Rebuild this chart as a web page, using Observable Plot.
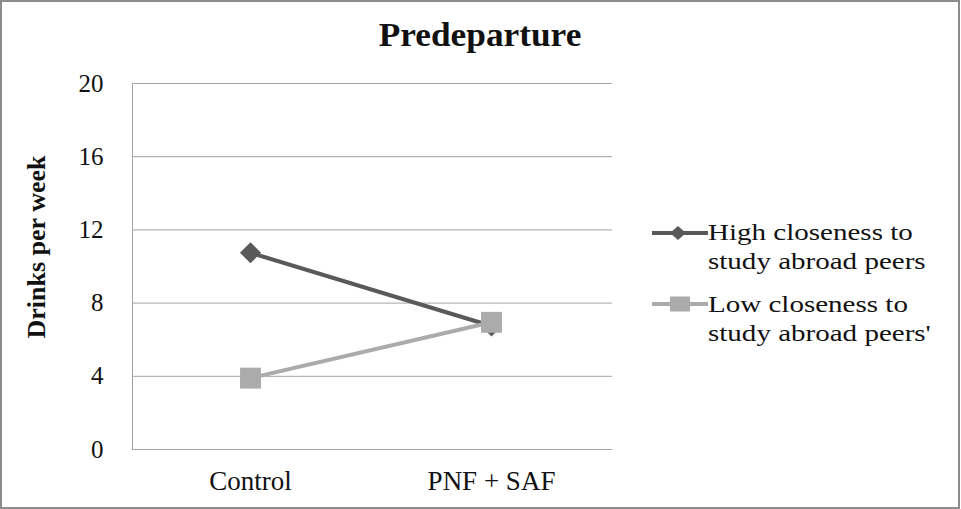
<!DOCTYPE html>
<html>
<head>
<meta charset="utf-8">
<script src="https://cdn.jsdelivr.net/npm/d3@7"></script>
<script src="https://cdn.jsdelivr.net/npm/@observablehq/plot@0.6"></script>
<style>
  html, body { margin: 0; padding: 0; background: #fff; }
  #wrap { position: relative; width: 961px; height: 509px; overflow: hidden; background: #fff;
          font-family: "Liberation Serif", "Times New Roman", serif; color: #111; }
  #border { position: absolute; left: 0; top: 0; width: 960px; height: 509px; box-sizing: border-box;
            border: 2px solid #8c8c8c; pointer-events: none; }
  #title { position: absolute; left: 480px; top: 19px; font-size: 33px; font-weight: bold; line-height: 1;
           white-space: nowrap; transform: translateX(-50%) scaleX(1.07); }
  #ylabel { position: absolute; left: 37px; top: 247px; font-size: 26px; font-weight: bold; line-height: 1;
            white-space: nowrap; transform: translate(-50%, -50%) rotate(-90deg); }
  .leg-text { position: absolute; left: 708px; font-size: 22.5px; line-height: 29px; white-space: nowrap;
              transform: scaleX(1.29); transform-origin: left top; color: #111; }
  .leg-swatch { position: absolute; left: 652px; }
  #chart svg { position: absolute; left: 0; top: 0; }
  #chart svg text { font-family: "Liberation Serif", "Times New Roman", serif !important; }
</style>
</head>
<body>
<div id="wrap">
  <div id="chart"></div>
  <div id="title"></div>
  <div id="ylabel"></div>
  <div id="legend"></div>
  <div id="border"></div>
</div>
<script>
// ---- data ----
const chartTitle = "Predeparture";
const yAxisLabel = "Drinks per week";
const categories = ["Control", "PNF + SAF"];
const seriesNames = ["High closeness to study abroad peers", "Low closeness to study abroad peers'"];
const legendLines = [["High closeness to", "study abroad peers"], ["Low closeness to", "study abroad peers'"]];
const highCloseness = [10.75, 6.75];
const lowCloseness = [3.9, 6.95];
const yTicks = [0, 4, 8, 12, 16, 20];
const seriesColors = ["#595959", "#ababab"];
const seriesSymbols = ["diamond2", "square"];

// build table
const seriesValues = [highCloseness, lowCloseness];
const rows = [];
seriesNames.forEach((s, si) => categories.forEach((c, ci) => rows.push({series: s, category: c, value: seriesValues[si][ci]})));

const serif = "'Liberation Serif', 'Times New Roman', serif";

const marks = [
  Plot.ruleY(yTicks, {stroke: "#a3a3a3", strokeWidth: 1}),
  Plot.frame({anchor: "left", stroke: "#a3a3a3"}),
  Plot.axisY({ticks: yTicks, tickSize: 0, tickPadding: 29, fontSize: 25, label: null, fill: "#111"}),
  Plot.axisX({tickSize: 0, tickPadding: 21, fontSize: 27, label: null, fill: "#111"})
];
seriesNames.forEach((s, si) => {
  const d = rows.filter(r => r.series === s);
  marks.push(Plot.line(d, {x: "category", y: "value", stroke: seriesColors[si], strokeWidth: 4}));
  marks.push(Plot.dot(d, {x: "category", y: "value", fill: seriesColors[si], stroke: "none",
                          symbol: seriesSymbols[si], r: si === 0 ? 9.5 : 11.8}));
});

const plot = Plot.plot({
  width: 961,
  height: 509,
  marginLeft: 132,
  marginRight: 349,
  marginTop: 83,
  marginBottom: 60,
  style: {fontFamily: serif, background: "transparent", overflow: "visible"},
  x: {type: "point", domain: categories, padding: 0.5, insetLeft: -3},
  y: {domain: [0, 20]},
  marks
});
document.getElementById("chart").appendChild(plot);

document.getElementById("title").textContent = chartTitle;
document.getElementById("ylabel").textContent = yAxisLabel;

// legend
const legend = document.getElementById("legend");
const legTops = [218, 290];
const swatchCenters = [233, 304];
legendLines.forEach((lines, i) => {
  const t = document.createElement("div");
  t.className = "leg-text";
  t.style.top = legTops[i] + "px";
  t.innerHTML = lines.map(l => `<div>${l}</div>`).join("");
  legend.appendChild(t);
  const svg = d3.create("svg").attr("class", "leg-swatch").attr("width", 56).attr("height", 24)
    .style("top", (swatchCenters[i] - 12) + "px");
  svg.append("line").attr("x1", 0).attr("x2", 56).attr("y1", 12).attr("y2", 12)
    .attr("stroke", seriesColors[i]).attr("stroke-width", 4);
  if (i === 0) {
    svg.append("path").attr("d", "M26,5 L34,12 L26,19 L18,12 Z").attr("fill", seriesColors[i]);
  } else {
    svg.append("rect").attr("x", 18).attr("y", 4.5).attr("width", 20).attr("height", 15).attr("fill", seriesColors[i]);
  }
  legend.appendChild(svg.node());
});
</script>
</body>
</html>
